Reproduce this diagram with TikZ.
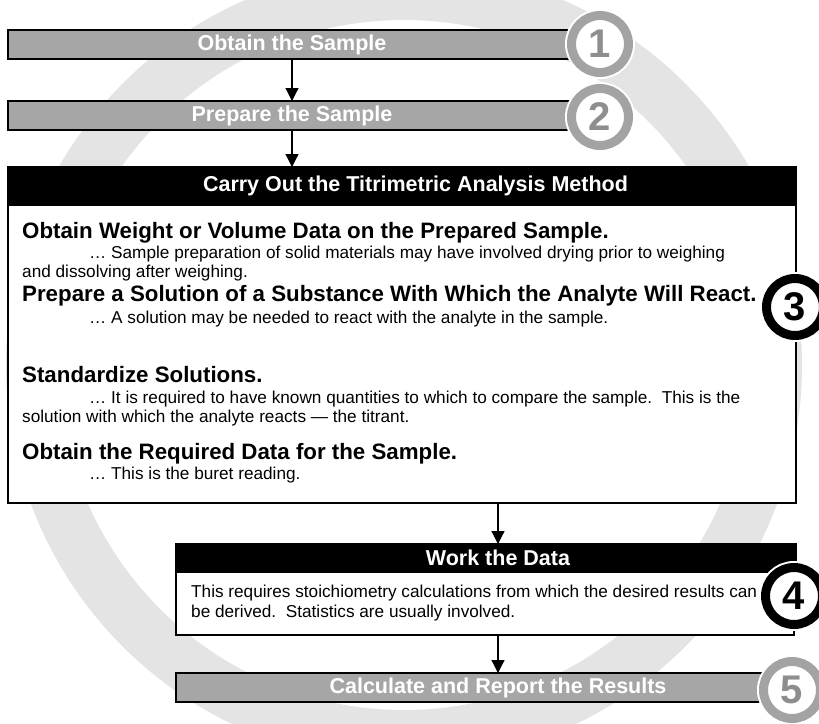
\documentclass[tikz,border=0pt]{standalone}
\usepackage{fontspec}
\setmainfont{Liberation Sans}
\usetikzlibrary{arrows.meta}
\definecolor{bargray}{HTML}{A6A6A6}
\definecolor{ringgray}{HTML}{E4E4E4}
\definecolor{dotgray}{HTML}{A3A3A3}
\definecolor{numgray}{HTML}{8E8E8E}
\newcommand{\barfont}{\fontsize{21.5}{24}\selectfont\bfseries}
\newcommand{\titlefont}{\fontsize{22.3}{26}\selectfont\bfseries}
\newcommand{\descfont}{\fontsize{17.2}{20}\selectfont}
\newcommand{\numfont}{\fontsize{40}{40}\selectfont\bfseries}
\tikzstyle{greybar} = [rectangle, anchor=north west, inner sep=0pt, outer sep=0pt,
fill=bargray, draw=black, line width=2.2pt, text=white, font=\barfont]
\tikzstyle{blackbar} = [greybar, fill=black]
\tikzstyle{whitebox} = [rectangle, anchor=north west, inner sep=0pt, outer sep=0pt,
fill=white, draw=black, line width=2pt]
\tikzstyle{itemtitle} = [anchor=base west, inner sep=0pt, font=\titlefont]
\tikzstyle{itemtext} = [anchor=base west, inner sep=0pt, font=\descfont]
\tikzstyle{greydot} = [circle, minimum size=57pt, inner sep=0pt,
fill=white, draw=dotgray, line width=9pt, text=numgray, font=\numfont,
preaction={draw=white, line width=13pt}]
\tikzstyle{blackdot} = [greydot, draw=black, text=black]
\tikzstyle{flowarrow} = [-{Triangle[width=13pt,length=13pt]}, line width=1.2pt]

\begin{document}
\begin{tikzpicture}[x=1pt, y=-1pt]
		\useasboundingbox (0,0) rectangle (819,723);
		% background ring
		\fill [ringgray, even odd rule] (404,365) circle (398pt) (404,365) circle (345pt);

		\node (obtain) [greybar, minimum width=568pt, minimum height=29pt] at (8,30) {Obtain the Sample};
		\node (prep) [greybar, minimum width=568pt, minimum height=29pt] at (8,101) {Prepare the Sample};

		\node (methodbody) [whitebox, minimum width=788pt, minimum height=298pt] at (8,205) {};
		\node (method) [blackbar, minimum width=788pt, minimum height=38pt] at (8,167) {\hspace*{27pt}Carry Out the Titrimetric Analysis Method};
		\node (weigh) [itemtitle] at (22,238) {Obtain Weight or Volume Data on the Prepared Sample.};
		\node (weighnote) [itemtext] at (89,258) {… Sample preparation of solid materials may have involved drying prior to weighing};
		\node (weighnoteb) [itemtext] at (22,277) {and dissolving after weighing.};
		\node (solution) [itemtitle] at (22,301) {Prepare a Solution of a Substance With Which the Analyte Will React.};
		\node (solutionnote) [itemtext] at (89,323) {… A solution may be needed to react with the analyte in the sample.};
		\node (standard) [itemtitle] at (22,382) {Standardize Solutions.};
		\node (standardnote) [itemtext] at (89,403) {… It is required to have known quantities to which to compare the sample.\ \ This is the};
		\node (standardnoteb) [itemtext] at (22,422) {solution with which the analyte reacts — the titrant.};
		\node (buret) [itemtitle] at (22,459) {Obtain the Required Data for the Sample.};
		\node (buretnote) [itemtext] at (89,479) {… This is the buret reading.};

		\node (workbody) [whitebox, minimum width=618pt, minimum height=63pt] at (176,572) {};
		\node (work) [blackbar, minimum width=620pt, minimum height=28pt] at (176,544) {\hspace*{24pt}Work the Data};
		\node (worknote) [itemtext] at (191,597) {This requires stoichiometry calculations from which the desired results can};
		\node (worknoteb) [itemtext] at (191,617) {be derived.\ \ Statistics are usually involved.};

		\node (finish) [greybar, minimum width=644pt, minimum height=29pt] at (176,673) {Calculate and Report the Results};

		\draw [flowarrow](obtain) -- (prep);
		\draw [flowarrow](prep.south) -- (prep.south |- method.north);
		\draw [flowarrow](methodbody.south -| finish.north) -- (work.north -| finish.north);
		\draw [flowarrow](workbody.south -| finish.north) -- (finish.north);

		\node (one) [greydot] at (600,44) {1};
		\node (two) [greydot] at (600,117) {2};
		\node (three) [blackdot] at (795,307) {3};
		\node (four) [blackdot] at (794,596) {4};
		\node (five) [greydot] at (792,690) {5};
	\end{tikzpicture}
\end{document}
